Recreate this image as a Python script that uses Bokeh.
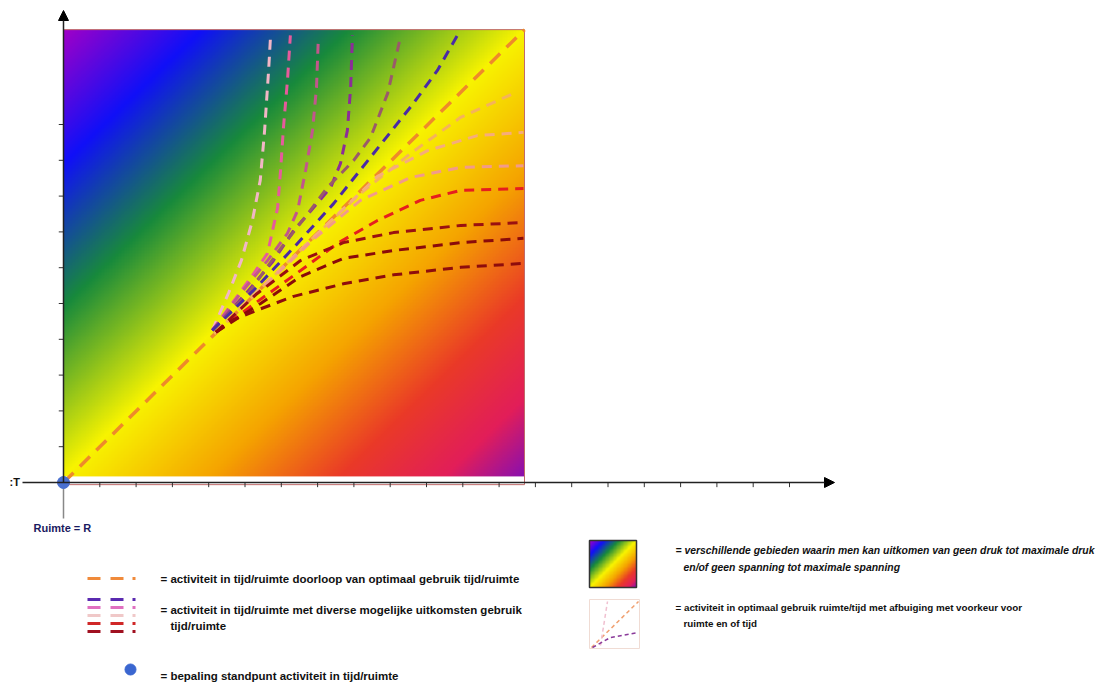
import numpy as np
from bokeh.plotting import figure
from bokeh.models import Range1d, Label, Arrow, NormalHead
from bokeh.embed import file_html
from bokeh.resources import INLINE

# ---------------- data (chart units: one tick = 1) ----------------
SQ_W, SQ_H = 12.7, 12.65          # size of the coloured field
SQ_BOTTOM = 0.17
X_TICKS = list(range(1, 21))
Y_TICKS = list(range(1, 11))

DIAG_X = [0.0, 12.7]
DIAG_Y = [0.0, 12.65]

C1_X = [4.10, 4.55, 4.90, 5.20, 5.42, 5.54, 5.65, 5.70]
C1_Y = [4.25, 5.30, 6.20, 7.30, 8.44, 9.83, 11.50, 12.40]
C2_X = [4.10, 4.75, 5.25, 5.62, 5.90, 5.98, 6.06, 6.17, 6.25]
C2_Y = [4.25, 5.15, 5.85, 6.40, 7.68, 8.72, 9.92, 11.23, 12.49]
C3_X = [4.10, 4.88, 5.62, 6.17, 6.45, 6.67, 6.86, 6.97, 7.02]
C3_Y = [4.25, 5.28, 6.20, 6.96, 7.60, 8.72, 9.83, 11.03, 12.40]
C4_X = [4.10, 5.00, 5.75, 6.34, 6.89, 7.36, 7.63, 7.82, 7.91, 7.96]
C4_Y = [4.25, 5.25, 6.15, 7.04, 7.68, 8.24, 8.91, 9.83, 11.03, 12.49]
C5_X = [4.10, 5.10, 6.00, 6.65, 7.27, 7.99, 8.46, 8.93, 9.28]
C5_Y = [4.25, 5.30, 6.56, 7.40, 8.24, 8.99, 9.64, 10.87, 12.43]
C6_X = [4.10, 5.23, 6.34, 7.44, 8.54, 9.64, 10.30, 10.85]
C6_Y = [4.25, 5.36, 6.56, 7.79, 9.19, 10.59, 11.51, 12.49]
C7_X = [4.15, 5.62, 6.89, 8.18, 9.56, 10.94, 12.45]
C7_Y = [4.15, 5.60, 6.85, 8.07, 9.19, 10.20, 10.89]
C8_X = [4.20, 5.80, 7.20, 8.65, 10.03, 11.40, 12.67]
C8_Y = [4.20, 5.78, 7.15, 8.55, 9.27, 9.69, 9.78]
C9_X = [4.20, 5.60, 6.89, 8.18, 9.56, 10.94, 12.67]
C9_Y = [4.20, 5.55, 6.80, 7.88, 8.52, 8.80, 8.85]
C10_X = [4.20, 5.20, 6.30, 7.55, 8.65, 9.83, 10.94, 12.67]
C10_Y = [4.20, 4.95, 5.75, 6.68, 7.32, 7.88, 8.16, 8.21]
C11_X = [4.20, 5.30, 6.53, 7.71, 9.09, 10.94, 12.67]
C11_Y = [4.20, 5.25, 6.20, 6.70, 6.98, 7.18, 7.26]
C12_X = [4.20, 5.43, 6.53, 7.71, 9.09, 10.94, 12.67]
C12_Y = [4.20, 5.00, 5.75, 6.26, 6.48, 6.70, 6.82]
C13_X = [4.20, 4.68, 5.43, 6.34, 7.71, 9.09, 10.94, 12.67]
C13_Y = [4.20, 4.55, 4.85, 5.20, 5.55, 5.80, 6.01, 6.12]

CURVES_X = [C1_X, C2_X, C3_X, C4_X, C5_X, C6_X, C7_X, C8_X, C9_X, C10_X, C11_X, C12_X, C13_X]
CURVES_Y = [C1_Y, C2_Y, C3_Y, C4_Y, C5_Y, C6_Y, C7_Y, C8_Y, C9_Y, C10_Y, C11_Y, C12_Y, C13_Y]
CURVE_COLORS = ["#f2b6c6", "#e65a9c", "#c2568c", "#8c2c98", "#9a5a6a", "#4a2aa6",
                "#f5b35a", "#f6ac7c", "#f29a8a", "#e61e1e", "#9a1010", "#8a0a0a", "#8e0c0c"]

GRAD_T = [0.0, 0.3, 0.62, 1.0, 1.32, 1.6, 1.83, 2.0]
GRAD_C = ["#a000c8", "#1010f8", "#188a3c", "#f8f400", "#f5a400", "#ea3a28", "#e21e5a", "#8a10b0"]

LEG_GROUP_COLORS = ["#5a2ab0", "#e070c0", "#f0c8c8", "#d02828", "#a01020"]

# ---------------- geometry ----------------
OFF = 0                 # page offset of the canvas
W, H = 1104, 684
OX, OY = 63, 482        # page pixel of origin
SX, SY = 36.3, 35.8     # pixels per unit

x_start = -(OX - OFF) / SX
y_end = (OY - OFF) / SY


def d(px, py):
    return (px - OX) / SX, (OY - py) / SY


p = figure(width=W, height=H, output_backend="svg", toolbar_location=None,
           x_range=Range1d(x_start, x_start + W / SX),
           y_range=Range1d(y_end - H / SY, y_end),
           min_border=0)
p.axis.visible = False
p.grid.visible = False
p.outline_line_color = None
p.background_fill_color = "white"


def grad_img(nw, nh):
    u = np.linspace(0, 1, nw)[None, :]
    vtop = 1 - np.linspace(0, 1, nh)[:, None]
    t = u + vtop
    cols = np.array([[int(c[i:i + 2], 16) for i in (1, 3, 5)] for c in GRAD_C], float)
    img = np.empty((nh, nw), dtype=np.uint32)
    view = img.view(dtype=np.uint8).reshape((nh, nw, 4))
    for k in range(3):
        view[..., k] = np.interp(t, GRAD_T, cols[:, k]).astype(np.uint8)
    view[..., 3] = 255
    return img


# coloured field
p.image_rgba(image=[grad_img(300, 300)], x=0, y=SQ_BOTTOM, dw=SQ_W, dh=SQ_H - SQ_BOTTOM)
p.quad(left=[0], right=[SQ_W], bottom=[-0.06], top=[SQ_H], fill_color=None,
       line_color="#c06a6a", line_width=1)

# axes
p.segment(x0=[0], y0=[0], x1=[0], y1=[d(0, 518)[1]], line_color="#888888", line_width=1.5)
p.add_layout(Arrow(end=NormalHead(size=10, fill_color="black", line_color="black"),
                   x_start=0, y_start=0, x_end=0, y_end=d(0, 10)[1],
                   line_color="#222222", line_width=1.5))
p.add_layout(Arrow(end=NormalHead(size=10, fill_color="black", line_color="black"),
                   x_start=d(22, 0)[0], y_start=0, x_end=d(834, 0)[0], y_end=0,
                   line_color="#222222", line_width=1.5))
p.segment(x0=X_TICKS, y0=[0.0] * len(X_TICKS), x1=X_TICKS, y1=[-0.13] * len(X_TICKS),
          line_color="#333333", line_width=1)
p.segment(x0=[-0.13] * len(Y_TICKS), y0=Y_TICKS, x1=[0.0] * len(Y_TICKS), y1=Y_TICKS,
          line_color="#333333", line_width=1)

# main diagonal + fan
p.line(DIAG_X, DIAG_Y, line_color="#ee8a2a", line_width=3.5, line_dash="14 9")
for xs, ys, c in zip(CURVES_X, CURVES_Y, CURVE_COLORS):
    p.line(xs, ys, line_color=c, line_width=3, line_dash="10 7")

# origin point
p.scatter(x=[0], y=[0], size=12, color="#4a70d0")

FONT = "Liberation Sans"


def lab(txt, px, py, color="#111111", style="bold", size="11.5px"):
    x, y = d(px, py)
    p.add_layout(Label(x=x, y=y, text=txt, text_font=FONT, text_font_size=size,
                       text_font_style=style, text_color=color, text_baseline="middle",
                       text_align="left"))


lab(":T", 9, 481, size="11px")
lab("Ruimte = R", 33, 527, color="#1a1a60", size="11px")

# left legend samples
segx = [(87, 100), (110, 123), (132, 135)]
for a, b in segx:
    x0_, y0_ = d(a, 578)
    x1_, _ = d(b, 578)
    p.segment(x0=[x0_], y0=[y0_], x1=[x1_], y1=[y0_], line_color="#f08a3a", line_width=3)
for i, c in enumerate(LEG_GROUP_COLORS):
    yy = 599 + 8 * i
    for a, b in segx:
        x0_, y0_ = d(a, yy)
        x1_, _ = d(b, yy)
        p.segment(x0=[x0_], y0=[y0_], x1=[x1_], y1=[y0_], line_color=c, line_width=3)
bx, by = d(130, 669)
p.scatter(x=[bx], y=[by], size=11, color="#3a66d0")

lab("= activiteit in tijd/ruimte  doorloop van optimaal gebruik tijd/ruimte", 160, 578)
lab("= activiteit in tijd/ruimte  met diverse mogelijke uitkomsten gebruik", 160, 609)
lab("tijd/ruimte", 170, 625)
lab("= bepaling standpunt activiteit in tijd/ruimte", 160, 675)

# right legend samples
gl, gb = d(589, 587)
gr, gt = d(636, 540)
p.image_rgba(image=[grad_img(60, 60)], x=gl, y=gb, dw=gr - gl, dh=gt - gb)
p.quad(left=[gl], right=[gr], bottom=[gb], top=[gt], fill_color=None,
       line_color="#333333", line_width=1.5)
ml, mb = d(589, 648)
mr, mt = d(639, 599)
p.quad(left=[ml], right=[mr], bottom=[mb], top=[mt], fill_color=None,
       line_color="#f0dcd4", line_width=1)
mx = [d(591, 0)[0], d(638, 0)[0]]
my = [d(0, 647)[1], d(0, 601)[1]]
p.line(mx, my, line_color="#f0a070", line_width=1.5, line_dash="4 3")
p.line([d(600, 0)[0], d(607, 0)[0]], [d(0, 645)[1], d(0, 601)[1]],
       line_color="#f0c0d0", line_width=1.5, line_dash="4 3")
p.line([d(592, 0)[0], d(610, 0)[0], d(638, 0)[0]], [d(0, 647)[1], d(0, 637)[1], d(0, 632)[1]],
       line_color="#8a3a9a", line_width=1.5, line_dash="4 3")

lab("= verschillende gebieden waarin men kan uitkomen van geen druk tot maximale druk", 675, 550,
    style="bold italic", size="10.4px")
lab("en/of  geen spanning tot maximale spanning", 683, 567, style="bold italic", size="10.4px")
lab("= activiteit in optimaal gebruik ruimte/tijd met afbuiging met voorkeur voor", 675, 607,
    size="9.8px")
lab("ruimte en of tijd", 683, 623, size="9.8px")

open("out.html", "w").write(file_html(p, INLINE))
